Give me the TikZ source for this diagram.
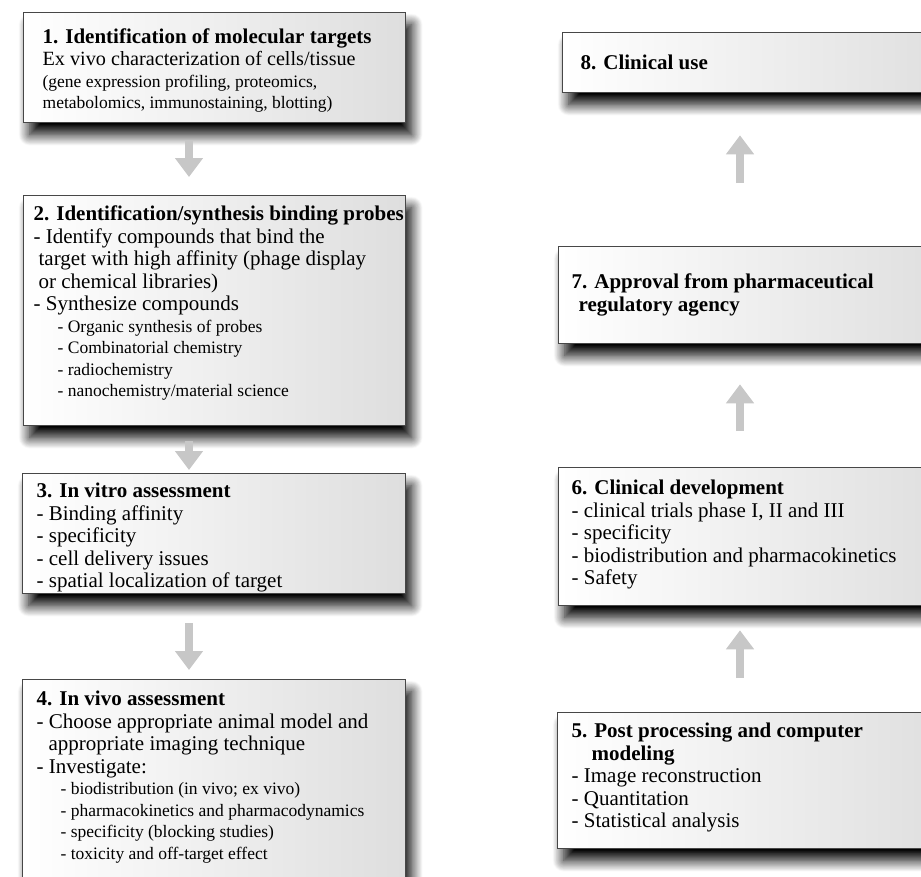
\documentclass[tikz,border=0pt]{standalone}
\usepackage{fontspec}
\setmainfont{Liberation Serif}
\usetikzlibrary{shadows.blur,arrows.meta}
\newcommand\BoxText[5]{\begin{minipage}[c][#2][t]{#1}\setlength\leftskip{#4}\vspace*{#3}#5\end{minipage}}
\newcommand\LnHead[1]{{\fontsize{21}{22.5}\selectfont\bfseries\mbox{#1}\par}}
\newcommand\LnMain[1]{{\fontsize{21}{22.5}\selectfont\mbox{#1}\par}}
\newcommand\LnMid[1]{{\fontsize{20.2}{22}\selectfont\mbox{#1}\par}}
\newcommand\LnSub[1]{{\fontsize{17.5}{21.5}\selectfont\mbox{#1}\par}}
\begin{document}
\begin{tikzpicture}[x=1pt,y=-1pt,
  box/.style={draw=black!72, line width=1.3pt, left color=white, right color=black!13,
    anchor=north west, inner sep=0pt,
    blur shadow={shadow xshift=6pt, shadow yshift=-12pt, shadow blur radius=11pt, shadow opacity=100, shadow blur steps=16}},
  flow/.style={draw=black!22, line width=8pt, -{Triangle[width=27pt,length=19pt]}},
]
\useasboundingbox (0,0) rectangle (921,876);

\node[box] (b1) at (23,12) {\BoxText{382pt}{110pt}{16.5pt}{19pt}{%
  \LnHead{1. Identification of molecular targets}
  \LnMid{Ex vivo characterization of cells/tissue}
  \LnSub{(gene expression profiling, proteomics,}
  \LnSub{metabolomics, immunostaining, blotting)}}};

\node[box] (b2) at (23,195) {\BoxText{382pt}{230pt}{10.5pt}{10pt}{%
  \LnHead{2. Identification/synthesis binding probes}
  \LnMain{- Identify compounds that bind the}
  \LnMain{\hspace*{5pt}target with high affinity (phage display}
  \LnMain{\hspace*{5pt}or chemical libraries)}
  \LnMain{- Synthesize compounds}
  \LnSub{\hspace*{24pt}- Organic synthesis of probes}
  \LnSub{\hspace*{24pt}- Combinatorial chemistry}
  \LnSub{\hspace*{24pt}- radiochemistry}
  \LnSub{\hspace*{24pt}- nanochemistry/material science}}};

\node[box] (b3) at (22,473) {\BoxText{383pt}{120pt}{9.5pt}{14pt}{%
  \LnHead{3. In vitro assessment}
  \LnMain{- Binding affinity}
  \LnMain{- specificity}
  \LnMain{- cell delivery issues}
  \LnMain{- spatial localization of target}}};

\node[box] (b4) at (22,679) {\BoxText{383pt}{230pt}{11.5pt}{14pt}{%
  \LnHead{4. In vivo assessment}
  \LnMain{- Choose appropriate animal model and}
  \LnMain{\hspace*{12pt}appropriate imaging technique}
  \LnMain{- Investigate:}
  \LnSub{\hspace*{24pt}- biodistribution (in vivo; ex vivo)}
  \LnSub{\hspace*{24pt}- pharmacokinetics and pharmacodynamics}
  \LnSub{\hspace*{24pt}- specificity (blocking studies)}
  \LnSub{\hspace*{24pt}- toxicity and off-target effect}}};

\node[box] (b8) at (562,32) {\BoxText{400pt}{60pt}{22.5pt}{18pt}{%
  \LnHead{8. Clinical use}}};

\node[box] (b7) at (558,246) {\BoxText{400pt}{97pt}{27.5pt}{13pt}{%
  \LnHead{7. Approval from pharmaceutical}
  \LnHead{\hspace*{7pt}regulatory agency}}};

\node[box] (b6) at (558,467) {\BoxText{400pt}{138pt}{12.5pt}{13pt}{%
  \LnHead{6. Clinical development}
  \LnMain{- clinical trials phase I, II and III}
  \LnMain{- specificity}
  \LnMain{- biodistribution and pharmacokinetics}
  \LnMain{- Safety}}};

\node[box] (b5) at (557,712) {\BoxText{400pt}{136pt}{10.5pt}{14pt}{%
  \LnHead{5. Post processing and computer}
  \LnHead{\hspace*{20pt}modeling}
  \LnMain{- Image reconstruction}
  \LnMain{- Quantitation}
  \LnMain{- Statistical analysis}}};

\draw[flow] ([xshift=166pt,yshift=-18pt]b1.south west) -- ([xshift=166pt,yshift=18pt]b2.north west);
\draw[flow] ([xshift=166pt,yshift=-15pt]b2.south west) -- ([xshift=167pt,yshift=3pt]b3.north west);
\draw[flow] ([xshift=167pt,yshift=-29pt]b3.south west) -- ([xshift=167pt,yshift=9pt]b4.north west);
\draw[flow] ([xshift=182pt,yshift=63pt]b7.north west) -- ([xshift=178pt,yshift=-42pt]b8.south west);
\draw[flow] ([xshift=182pt,yshift=36pt]b6.north west) -- ([xshift=182pt,yshift=-40pt]b7.south west);
\draw[flow] ([xshift=183pt,yshift=34pt]b5.north west) -- ([xshift=182pt,yshift=-24pt]b6.south west);
\end{tikzpicture}
\end{document}
